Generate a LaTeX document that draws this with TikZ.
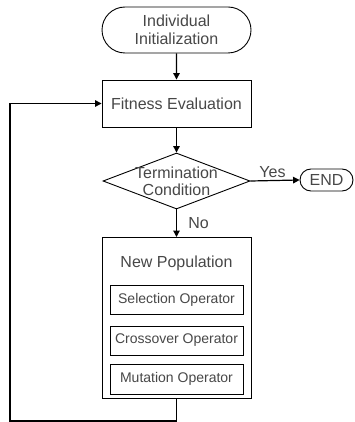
\documentclass[tikz,border=0pt]{standalone}
\usepackage{fontspec}
\setmainfont{Liberation Sans}
\usetikzlibrary{shapes.geometric,shapes.misc,arrows.meta}
\begin{document}
\begin{tikzpicture}[x=1pt,y=-1pt,
  txt/.style={text=black!72, font=\fontsize{16}{19}\selectfont},
  stxt/.style={text=black!72, font=\fontsize{14}{16}\selectfont},
  box/.style={draw, line width=0.9pt, rectangle, inner sep=0pt, txt},
  term/.style={draw, line width=0.9pt, rounded rectangle, inner sep=0pt, txt, align=center},
  dec/.style={draw, line width=0.9pt, diamond, inner sep=0pt, txt, align=center},
  arr/.style={draw, line width=1.2pt, -{Triangle[length=6.5pt,width=6.5pt]}},
  lbl/.style={text=black!72, font=\fontsize{16}{19}\selectfont}
]
\useasboundingbox (0,0) rectangle (354,422);
\node[term, minimum width=149pt, minimum height=46pt] (init) at (176.5,30) {Individual\\[-1pt]Initialization};
\node[box, minimum width=149pt, minimum height=47pt] (fit) at (176.5,103.5) {Fitness Evaluation};
\node[dec, minimum width=147pt, minimum height=56pt, shape aspect=2.6] (cond) at (176.5,181) {};
\node[txt, align=center] at (176.5,181) {Termination\\[-2pt]Condition};
\node[term, minimum width=53pt, minimum height=22pt, txt] (end) at (326.5,180) {END};
\node[box, minimum width=149pt, minimum height=161pt, anchor=north] (pop) at (176.5,237) {};
\node[txt] (poplbl) at (176.5,263) {New Population};
\node[box, stxt, minimum width=133pt, minimum height=29pt] (sel) at (176.5,299.5) {Selection Operator};
\node[box, stxt, minimum width=133pt, minimum height=29pt] (cro) at (176.5,340.5) {Crossover Operator};
\node[box, stxt, minimum width=133pt, minimum height=30pt] (mut) at (176.5,379) {Mutation Operator};
\coordinate (bl) at (10,421);
\coordinate (br) at (176.5,421);
\draw[arr] (init) -- (fit);
\draw[arr] (fit) -- (cond);
\draw[arr] (cond.east) -- node[lbl, above, pos=0.45, yshift=-1pt] {Yes} (end.west);
\draw[arr] (cond.south) -- node[lbl, right, xshift=8pt] {No} (pop.north);
\draw[arr] (pop.south) -- (br) -- (bl) -- (bl |- fit.west) -- (fit.west);
\end{tikzpicture}
\end{document}
